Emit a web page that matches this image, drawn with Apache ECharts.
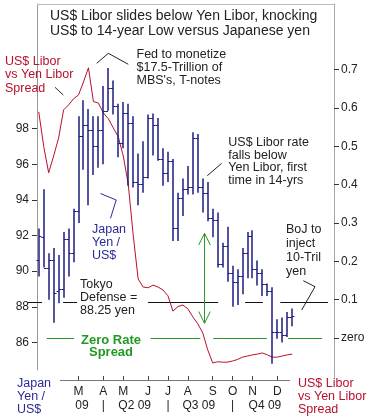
<!DOCTYPE html>
<html><head><meta charset="utf-8">
<script src="https://cdn.jsdelivr.net/npm/echarts@6/dist/echarts.min.js"></script>
<style>html,body{margin:0;padding:0;background:#fff}#c{width:373px;height:418px}</style>
</head><body><div id="c"></div>
<script>
// Weekly bars (week starting Monday)
const weeks = ['2008-12-29','2009-01-05','2009-01-12','2009-01-19','2009-01-26','2009-02-02','2009-02-09','2009-02-16','2009-02-23',
'2009-03-02','2009-03-09','2009-03-16','2009-03-23','2009-03-30','2009-04-06','2009-04-13','2009-04-20','2009-04-27',
'2009-05-04','2009-05-11','2009-05-18','2009-05-25','2009-06-01','2009-06-08','2009-06-15','2009-06-22','2009-06-29',
'2009-07-06','2009-07-13','2009-07-20','2009-07-27','2009-08-03','2009-08-10','2009-08-17','2009-08-24','2009-08-31',
'2009-09-07','2009-09-14','2009-09-21','2009-09-28','2009-10-05','2009-10-12','2009-10-19','2009-10-26','2009-11-02',
'2009-11-09','2009-11-16','2009-11-23','2009-11-30','2009-12-07','2009-12-14','2009-12-21'];
// Japanese yen per US$ (OHLC)
const yenOpen  = [90.6,91.9,90.2,90.6,88.9,89.0,91.8,91.0,93.4,97.6,98.2,97.9,97.0,97.9,99.0,100.3,99.3,97.2,98.9,98.3,95.0,94.9,95.3,98.6,98.2,96.3,95.5,96.2,92.4,94.1,94.6,94.7,97.5,94.7,94.4,93.0,92.9,90.4,91.4,89.9,89.4,89.7,91.0,92.0,90.1,89.9,89.3,88.9,86.6,86.6,86.4,87.4];
const yenHigh  = [92.4,94.6,91.0,91.3,90.9,92.2,92.4,93.5,98.7,99.6,99.1,98.7,98.7,100.4,101.4,100.7,99.4,99.5,99.4,98.7,96.6,97.3,98.8,98.85,98.6,96.9,96.7,96.3,94.4,95.2,95.9,97.8,97.7,95.2,95.0,93.5,93.3,91.6,92.5,90.3,90.1,91.3,92.2,92.3,90.6,90.1,89.3,89.1,87.3,87.4,87.7,87.9];
const yenLow   = [89.7,90.2,88.4,87.1,88.2,88.5,89.7,90.5,92.7,95.7,93.7,95.4,95.8,96.0,99.0,98.8,96.4,96.9,94.8,94.7,93.7,94.4,95.2,96.5,96.2,94.8,95.0,91.7,91.7,93.1,94.3,94.3,94.4,93.3,92.8,91.9,90.2,90.2,89.4,88.0,88.1,88.7,89.6,89.6,89.2,88.6,88.6,84.8,86.2,86.0,86.3,86.9];
const yenClose = [92.0,90.2,90.6,88.8,89.0,91.8,91.0,93.4,97.6,98.2,97.9,97.0,97.9,99.0,100.3,99.3,97.2,98.9,98.3,95.0,94.9,95.3,98.6,98.2,96.3,95.5,96.2,92.4,94.1,94.6,94.7,97.5,94.7,94.4,93.0,92.9,90.4,91.4,89.9,89.4,89.7,91.0,92.0,90.1,89.9,89.3,88.9,86.6,86.6,86.4,87.4,87.5];
// US$ Libor vs Yen Libor spread (right axis)
const spread = [0.59,0.50,0.431,0.475,0.522,0.595,0.608,0.624,0.634,0.668,0.705,0.617,0.613,0.587,0.572,0.548,0.525,0.475,0.402,0.269,0.154,0.133,0.131,0.138,0.133,0.125,0.110,0.070,0.082,0.086,0.076,0.055,0.037,0.013,-0.031,-0.065,-0.062,-0.063,-0.063,-0.060,-0.056,-0.050,-0.047,-0.044,-0.042,-0.039,-0.044,-0.050,-0.050,-0.047,-0.044,-0.042];
// Axis ticks and labels
const monthTicks  = [8,13,17,22,26,30,35,39,43,48];
const monthLabels = ['M','A','M','J','J','A','S','O','N','D'];
const quarterPos    = [8.7,13,19.3,26,32.2,39,45.5];
const quarterLabels = ['09','|','Q2 09','|','Q3 09','|','Q4 09'];
const yenTicks    = [86,88,90,92,94,96,98];
const spreadTicks = [0,0.1,0.2,0.3,0.4,0.5,0.6,0.7];
// Reference levels
const tokyoDefense = 88.25;
const zeroSpread = 0;
const defenseSegments = [[-2.15,0.66],[4.9,7.7],[22.0,36.1],[41.5,45.1],[48.6,58.2]];
const zeroSegments = [[1.6,7.1],[22.5,32.5],[35.1,45.9],[50.2,57.0]];

const FONT = '"Liberation Sans", Arial, sans-serif';
const NAVY = '#1b1b80', RED = '#b8102c', GREEN = '#229922';

const chart = echarts.init(document.getElementById('c'), null, {renderer:'canvas'});

function segRender(level){
  return function(params, api){
    const a = api.coord([api.value(0), level]);
    const b = api.coord([api.value(1), level]);
    return {type:'line', shape:{x1:a[0], y1:Math.round(a[1])+0.5, x2:b[0], y2:Math.round(b[1])+0.5},
      style:{stroke: api.visual('color'), lineWidth:1}};
  };
}

function txt(text, x, y, lh, color, opts){
  return Object.assign({type:'text', x:x, y:y, z:50, style:Object.assign({text:text, fill:color, fontSize:12.5, fontFamily:FONT, lineHeight:lh, verticalAlign:'top'}, opts||{})});
}
function pl(points, color){
  return {type:'polyline', z:50, shape:{points:points}, style:{stroke:color, fill:null, lineWidth:1}};
}

const option = {
  animation:false,
  backgroundColor:'#fff',
  grid:{left:37, right:39, top:4, bottom:48},
  xAxis:[
    {type:'value', min:-0.35, max:59.4, position:'bottom', offset:10,
     axisLine:{show:false, onZero:false}, splitLine:{show:false},
     axisTick:{show:true, inside:true, length:4, customValues:monthTicks, lineStyle:{color:'#444'}},
     axisLabel:{customValues:monthTicks, formatter:function(v){return monthLabels[monthTicks.indexOf(v)];}, margin:6, fontSize:12, color:'#222', fontFamily:FONT}},
    {type:'value', min:-0.35, max:59.4, position:'bottom', offset:10,
     axisLine:{show:false, onZero:false}, splitLine:{show:false}, axisTick:{show:false},
     axisLabel:{customValues:quarterPos, formatter:function(v){return quarterLabels[quarterPos.indexOf(v)];}, margin:20, fontSize:12, color:'#222', fontFamily:FONT}}
  ],
  yAxis:[
    {type:'value', position:'left', min:84.45, max:105.0, splitLine:{show:false},
     axisLine:{show:true, onZero:false, lineStyle:{color:'#999'}},
     axisTick:{show:true, length:5, customValues:yenTicks, lineStyle:{color:'#333'}},
     axisLabel:{customValues:yenTicks, margin:8, fontSize:12, color:'#222', fontFamily:FONT}},
    {type:'value', position:'right', min:-0.0835, max:0.8714, splitLine:{show:false},
     axisLine:{show:true, onZero:false, lineStyle:{color:'#aaa'}},
     axisTick:{show:true, length:5, customValues:spreadTicks, lineStyle:{color:'#333'}},
     axisLabel:{customValues:spreadTicks, formatter:function(v){return v===0?'zero':v.toFixed(1);}, margin:7, fontSize:12, color:'#222', fontFamily:FONT}}
  ],
  series:[
    {type:'custom', name:'defense', xAxisIndex:0, yAxisIndex:0, z:1, itemStyle:{color:'#111'},
     data:defenseSegments, renderItem:segRender(tokyoDefense)},
    {type:'custom', name:'zero', xAxisIndex:0, yAxisIndex:1, z:1, itemStyle:{color:GREEN},
     data:zeroSegments, renderItem:segRender(zeroSpread)},
    {type:'line', name:'spread', xAxisIndex:0, yAxisIndex:1, z:3, showSymbol:false, symbol:'none',
     lineStyle:{color:RED, width:1}, data:spread.map(function(v,i){return [i,v];})},
    {type:'custom', name:'yen', xAxisIndex:0, yAxisIndex:0, z:4,
     data:weeks.map(function(w,i){return [i, yenOpen[i], yenHigh[i], yenLow[i], yenClose[i]];}),
     encode:{x:0, y:[1,2,3,4]},
     renderItem:function(params, api){
       const x = api.value(0);
       const pO = api.coord([x, api.value(1)]);
       const pH = api.coord([x, api.value(2)]);
       const pL = api.coord([x, api.value(3)]);
       const pC = api.coord([x, api.value(4)]);
       const cx = Math.round(pH[0]);
       const st = {stroke:NAVY, lineWidth:1.5};
       return {type:'group', children:[
         {type:'line', shape:{x1:cx, y1:pH[1], x2:cx, y2:pL[1]}, style:st},
         {type:'line', shape:{x1:cx-2.5, y1:Math.round(pO[1])+0.5, x2:cx, y2:Math.round(pO[1])+0.5}, style:{stroke:NAVY, lineWidth:1}},
         {type:'line', shape:{x1:cx, y1:Math.round(pC[1])+0.5, x2:cx+2.5, y2:Math.round(pC[1])+0.5}, style:{stroke:NAVY, lineWidth:1}}
       ]};
     }}
  ],
  graphic:[
    {type:'line', z:40, shape:{x1:37, y1:4.5, x2:334, y2:4.5}, style:{stroke:'#bbb', lineWidth:1}},
    {type:'line', z:40, shape:{x1:334.5, y1:370, x2:334.5, y2:378}, style:{stroke:'#aaa', lineWidth:1}},
    {type:'line', z:40, shape:{x1:60, y1:380.5, x2:290, y2:380.5}, style:{stroke:'#777', lineWidth:1}},
    txt('US$ Libor slides below Yen Libor, knocking\nUS$ to 14-year Low versus Japanese yen', 50, 8.6, 14.7, '#222', {fontSize:14}),
    txt('US$ Libor\nvs Yen Libor\nSpread', 5, 55, 13.3, RED),
    pl([[55,87.3],[63.3,95]], '#442222'),
    txt('Fed to monetize\n$17.5-Trillion of\nMBS\'s, T-notes', 136.5, 48.5, 13, '#222'),
    pl([[96.7,63.3],[108.3,53.3],[128.3,64.3]], '#222'),
    txt('US$ Libor rate\nfalls below\nYen Libor, first\ntime in 14-yrs', 228.3, 136, 12.8, '#222'),
    pl([[207.3,175.7],[221.7,163.3]], '#222'),
    txt('Japan\nYen /\nUS$', 92, 222.7, 13.3, '#2b2b96'),
    pl([[100.5,193.5],[116.2,200],[110.5,218.3]], '#2b2b96'),
    txt('BoJ to\ninject\n10-Tril\nyen', 286, 223, 13.9, '#222'),
    pl([[303.3,280.7],[315,286.7],[301.7,310]], '#222'),
    txt('Tokyo\nDefense =\n88.25 yen', 80, 278.6, 12.85, '#222'),
    txt('Zero Rate\nSpread', 111, 333.6, 12.7, GREEN, {fontWeight:'bold', align:'center', fontSize:13}),
    {type:'line', z:45, shape:{x1:204.5, y1:233.5, x2:204.5, y2:323.3}, style:{stroke:'#2a962a', lineWidth:1}},
    pl([[198.7,245],[204.5,233.3],[210.3,245]], '#2a962a'),
    pl([[198.7,311.5],[204.5,323.3],[210.3,311.5]], '#2a962a'),
    txt('Japan\nYen /\nUS$', 17, 376.7, 13.3, '#2b2b96'),
    txt('US$ Libor\nvs Yen Libor\nSpread', 298, 377.5, 12.85, RED)
  ]
};
chart.setOption(option);
</script>
</body></html>
